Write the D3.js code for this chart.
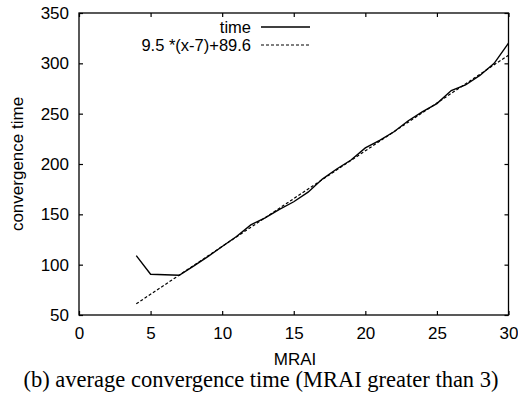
<!DOCTYPE html>
<html>
<head>
<meta charset="utf-8">
<script src="https://cdn.jsdelivr.net/npm/d3@7"></script>
<style>
  body { margin: 0; background: #fff; }
  svg text { font-family: "Liberation Sans", Arial, sans-serif; fill: #000; }
</style>
</head>
<body>
<div class="chart"></div>
<script>
// measured convergence time for each MRAI value
const mrai = [4, 5, 6, 7, 8, 9, 10, 11, 12, 13, 14, 15, 16, 17, 18, 19, 20, 21, 22, 23, 24, 25, 26, 27, 28, 29, 30];
const timeValues = [109, 90.5, 90, 89.5, 98.5, 108, 118, 128, 139.5, 146.5, 155, 162.5, 172, 185, 195, 204, 216, 223.5, 232, 243, 252, 260, 273, 278.5, 288, 300, 320];

// fitted line 9.5 *(x-7)+89.6, two end points
const fitX = [4, 30];
const fitY = [61.1, 308.1];

const xTicks = [0, 5, 10, 15, 20, 25, 30];
const yTicks = [50, 100, 150, 200, 250, 300, 350];

const legendLabels = ["time", "9.5 *(x-7)+89.6"];

var width = 518, height = 394;
var plotLeft = 79, plotRight = 508.5, plotTop = 13, plotBottom = 315;

var svg = d3.select(".chart")
  .append("svg")
  .attr("width", width)
  .attr("height", height);

var x = d3.scaleLinear().domain([0, 30]).range([plotLeft, plotRight]);
var y = d3.scaleLinear().domain([50, 350]).range([plotBottom, plotTop]);

// bottom + left axes with labels, ticks drawn inward
var xAxis = svg.append("g")
  .attr("transform", `translate(0,${plotBottom})`)
  .call(d3.axisBottom(x).tickValues(xTicks).tickSize(-4).tickPadding(12).tickFormat(d3.format("d")));
var yAxis = svg.append("g")
  .attr("transform", `translate(${plotLeft},0)`)
  .call(d3.axisLeft(y).tickValues(yTicks).tickSize(-4).tickPadding(10).tickFormat(d3.format("d")));

// mirrored ticks on top and right
var xTop = svg.append("g")
  .attr("transform", `translate(0,${plotTop})`)
  .call(d3.axisTop(x).tickValues(xTicks).tickSize(-4).tickFormat(""));
var yRight = svg.append("g")
  .attr("transform", `translate(${plotRight},0)`)
  .call(d3.axisRight(y).tickValues(yTicks).tickSize(-4).tickFormat(""));

[xAxis, yAxis, xTop, yRight].forEach(g => {
  g.select(".domain").remove();
  g.selectAll("line").attr("stroke", "#000").attr("stroke-width", 1.2);
  g.selectAll("text").style("font-size", "17px").attr("fill", "#000");
});

// border
svg.append("rect")
  .attr("x", plotLeft).attr("y", plotTop)
  .attr("width", plotRight - plotLeft).attr("height", plotBottom - plotTop)
  .attr("fill", "none").attr("stroke", "#000").attr("stroke-width", 1.3);

// fit line (dashed)
var fitData = fitX.map((d, i) => [d, fitY[i]]);
svg.append("path")
  .datum(fitData)
  .attr("fill", "none").attr("stroke", "#000").attr("stroke-width", 1.2)
  .attr("stroke-dasharray", "3,2")
  .attr("d", d3.line().x(d => x(d[0])).y(d => y(d[1])));

// time line (solid)
var timeData = mrai.map((d, i) => [d, timeValues[i]]);
svg.append("path")
  .datum(timeData)
  .attr("fill", "none").attr("stroke", "#000").attr("stroke-width", 1.4)
  .attr("d", d3.line().x(d => x(d[0])).y(d => y(d[1])));

// legend
var legendY = [27, 45];
legendLabels.forEach((label, i) => {
  svg.append("text")
    .attr("x", 251).attr("y", legendY[i] + 6)
    .attr("text-anchor", "end")
    .style("font-size", "16.5px")
    .text(label);
  svg.append("line")
    .attr("x1", 261).attr("x2", 310)
    .attr("y1", legendY[i]).attr("y2", legendY[i])
    .attr("stroke", "#000").attr("stroke-width", i == 0 ? 1.4 : 1.2)
    .attr("stroke-dasharray", i == 0 ? null : "3,2");
});

// axis titles
svg.append("text")
  .attr("transform", `translate(23,${(plotTop + plotBottom) / 2}) rotate(-90)`)
  .attr("text-anchor", "middle")
  .style("font-size", "17px")
  .text("convergence time");

svg.append("text")
  .attr("x", 295).attr("y", 365)
  .attr("text-anchor", "middle")
  .style("font-size", "17px")
  .text("MRAI");

// caption
svg.append("text")
  .attr("x", 261).attr("y", 387)
  .attr("text-anchor", "middle")
  .style("font-family", "'Liberation Serif', 'Times New Roman', serif")
  .style("font-size", "22.5px")
  .text("(b) average convergence time (MRAI greater than 3)");
</script>
</body>
</html>
